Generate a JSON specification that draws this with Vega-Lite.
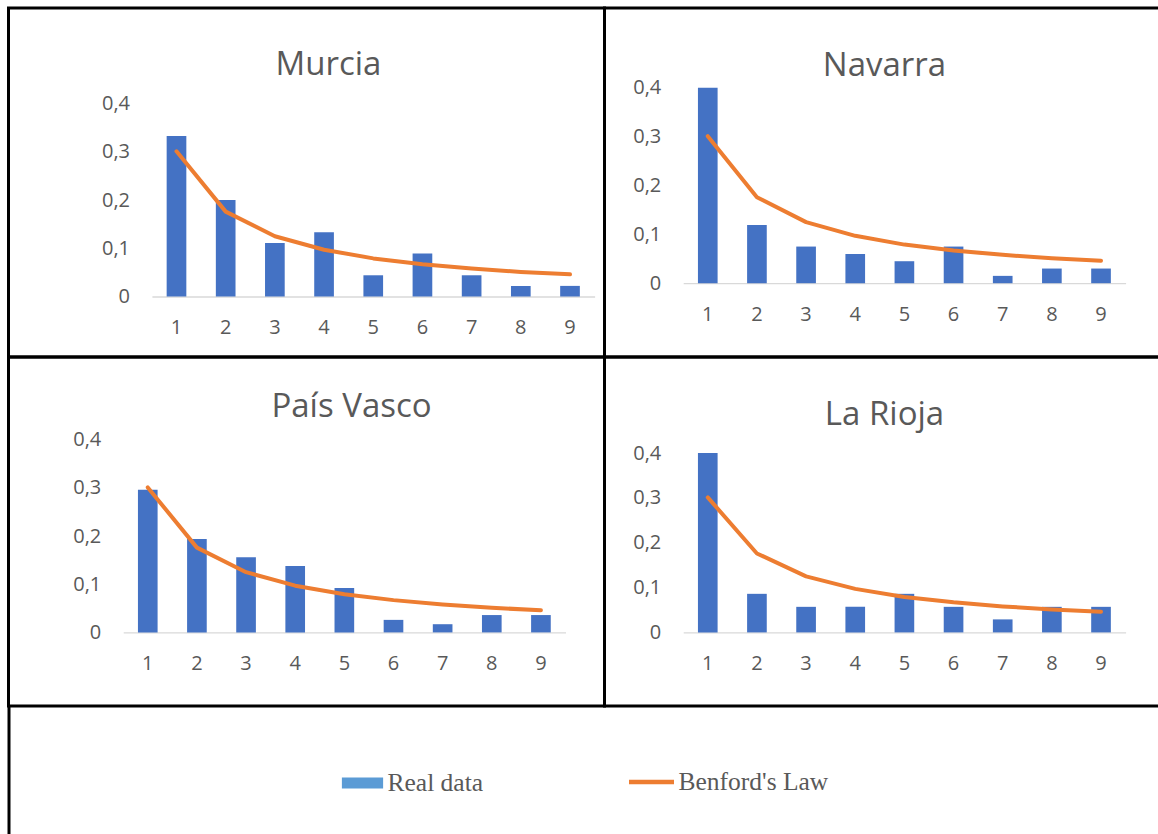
{
  "$schema": "https://vega.github.io/schema/vega-lite/v6.json",
  "padding": {"left": 6.5, "top": 6, "right": 0, "bottom": 0},
  "background": "white",
  "datasets": {
    "digits": [
      {"region": "Murcia", "digit": 1, "real": 0.333, "benford": 0.301},
      {"region": "Murcia", "digit": 2, "real": 0.2, "benford": 0.176},
      {"region": "Murcia", "digit": 3, "real": 0.111, "benford": 0.125},
      {"region": "Murcia", "digit": 4, "real": 0.133, "benford": 0.097},
      {"region": "Murcia", "digit": 5, "real": 0.044, "benford": 0.079},
      {"region": "Murcia", "digit": 6, "real": 0.089, "benford": 0.067},
      {"region": "Murcia", "digit": 7, "real": 0.044, "benford": 0.058},
      {"region": "Murcia", "digit": 8, "real": 0.022, "benford": 0.051},
      {"region": "Murcia", "digit": 9, "real": 0.022, "benford": 0.046},
      {"region": "Navarra", "digit": 1, "real": 0.4, "benford": 0.301},
      {"region": "Navarra", "digit": 2, "real": 0.119, "benford": 0.176},
      {"region": "Navarra", "digit": 3, "real": 0.075, "benford": 0.125},
      {"region": "Navarra", "digit": 4, "real": 0.06, "benford": 0.097},
      {"region": "Navarra", "digit": 5, "real": 0.045, "benford": 0.079},
      {"region": "Navarra", "digit": 6, "real": 0.075, "benford": 0.067},
      {"region": "Navarra", "digit": 7, "real": 0.015, "benford": 0.058},
      {"region": "Navarra", "digit": 8, "real": 0.03, "benford": 0.051},
      {"region": "Navarra", "digit": 9, "real": 0.03, "benford": 0.046},
      {"region": "País Vasco", "digit": 1, "real": 0.296, "benford": 0.301},
      {"region": "País Vasco", "digit": 2, "real": 0.194, "benford": 0.176},
      {"region": "País Vasco", "digit": 3, "real": 0.156, "benford": 0.125},
      {"region": "País Vasco", "digit": 4, "real": 0.138, "benford": 0.097},
      {"region": "País Vasco", "digit": 5, "real": 0.092, "benford": 0.079},
      {"region": "País Vasco", "digit": 6, "real": 0.026, "benford": 0.067},
      {"region": "País Vasco", "digit": 7, "real": 0.017, "benford": 0.058},
      {"region": "País Vasco", "digit": 8, "real": 0.036, "benford": 0.051},
      {"region": "País Vasco", "digit": 9, "real": 0.036, "benford": 0.046},
      {"region": "La Rioja", "digit": 1, "real": 0.4, "benford": 0.301},
      {"region": "La Rioja", "digit": 2, "real": 0.086, "benford": 0.176},
      {"region": "La Rioja", "digit": 3, "real": 0.057, "benford": 0.125},
      {"region": "La Rioja", "digit": 4, "real": 0.057, "benford": 0.097},
      {"region": "La Rioja", "digit": 5, "real": 0.086, "benford": 0.079},
      {"region": "La Rioja", "digit": 6, "real": 0.057, "benford": 0.067},
      {"region": "La Rioja", "digit": 7, "real": 0.029, "benford": 0.058},
      {"region": "La Rioja", "digit": 8, "real": 0.057, "benford": 0.051},
      {"region": "La Rioja", "digit": 9, "real": 0.057, "benford": 0.046}
    ],
    "series": [
      {"series": "Real data"},
      {"series": "Benford's Law"}
    ]
  },
  "columns": 2,
  "bounds": "flush",
  "spacing": 0,
  "concat": [
    {
      "width": 596, "height": 349,
      "title": {"text": "Murcia", "dx": 22, "offset": -74},
      "data": {"name": "digits"},
      "transform": [{"filter": "datum.region === 'Murcia'"}],
      "encoding": {
        "x": {"field": "digit", "type": "ordinal",
              "scale": {"range": [143.4, 586.1], "paddingInner": 0.6, "paddingOuter": 0.3},
              "axis": {"offset": -60.5}}
      },
      "layer": [
        {"mark": {"type": "bar", "color": "#4472c4"},
         "encoding": {"y": {"field": "real", "type": "quantitative",
                            "scale": {"domain": [0, 0.4], "range": [288.5, 95.6], "nice": false},
                            "axis": {"offset": -121, "values": [0, 0.1, 0.2, 0.3, 0.4]}}}},
        {"mark": {"type": "line", "color": "#ed7d31", "strokeWidth": 4, "strokeCap": "round", "strokeJoin": "round"},
         "encoding": {"y": {"field": "benford", "type": "quantitative"}}}
      ]
    },
    {
      "width": 560, "height": 349,
      "title": {"text": "Navarra", "dx": 0, "offset": -75},
      "data": {"name": "digits"},
      "transform": [{"filter": "datum.region === 'Navarra'"}],
      "encoding": {
        "x": {"field": "digit", "type": "ordinal",
              "scale": {"range": [78.7, 521.1], "paddingInner": 0.6, "paddingOuter": 0.3},
              "axis": {"offset": -73.8}}
      },
      "layer": [
        {"mark": {"type": "bar", "color": "#4472c4"},
         "encoding": {"y": {"field": "real", "type": "quantitative",
                            "scale": {"domain": [0, 0.4], "range": [275.2, 79.8], "nice": false},
                            "axis": {"offset": -56.3, "values": [0, 0.1, 0.2, 0.3, 0.4]}}}},
        {"mark": {"type": "line", "color": "#ed7d31", "strokeWidth": 4, "strokeCap": "round", "strokeJoin": "round"},
         "encoding": {"y": {"field": "benford", "type": "quantitative"}}}
      ]
    },
    {
      "width": 596, "height": 349,
      "title": {"text": "País Vasco", "dx": 45, "offset": -67},
      "data": {"name": "digits"},
      "transform": [{"filter": "datum.region === 'País Vasco'"}],
      "encoding": {
        "x": {"field": "digit", "type": "ordinal",
              "scale": {"range": [114.7, 557], "paddingInner": 0.6, "paddingOuter": 0.3},
              "axis": {"offset": -73.6}}
      },
      "layer": [
        {"mark": {"type": "bar", "color": "#4472c4"},
         "encoding": {"y": {"field": "real", "type": "quantitative",
                            "scale": {"domain": [0, 0.4], "range": [275.4, 82.7], "nice": false},
                            "axis": {"offset": -92.3, "values": [0, 0.1, 0.2, 0.3, 0.4]}}}},
        {"mark": {"type": "line", "color": "#ed7d31", "strokeWidth": 4, "strokeCap": "round", "strokeJoin": "round"},
         "encoding": {"y": {"field": "benford", "type": "quantitative"}}}
      ]
    },
    {
      "width": 560, "height": 349,
      "title": {"text": "La Rioja", "dx": 0, "offset": -75},
      "data": {"name": "digits"},
      "transform": [{"filter": "datum.region === 'La Rioja'"}],
      "encoding": {
        "x": {"field": "digit", "type": "ordinal",
              "scale": {"range": [78.7, 521.1], "paddingInner": 0.6, "paddingOuter": 0.3},
              "axis": {"offset": -73.6}}
      },
      "layer": [
        {"mark": {"type": "bar", "color": "#4472c4"},
         "encoding": {"y": {"field": "real", "type": "quantitative",
                            "scale": {"domain": [0, 0.4], "range": [275.4, 96], "nice": false},
                            "axis": {"offset": -56.3, "values": [0, 0.1, 0.2, 0.3, 0.4]}}}},
        {"mark": {"type": "line", "color": "#ed7d31", "strokeWidth": 4, "strokeCap": "round", "strokeJoin": "round"},
         "encoding": {"y": {"field": "benford", "type": "quantitative"}}}
      ]
    },
    {
      "width": 596, "height": 135,
      "view": {"stroke": null},
      "data": {"name": "series"},
      "layer": [
        {
          "transform": [{"filter": "datum.series === 'Real data'"}],
          "mark": {"type": "point", "filled": true, "opacity": 0},
          "encoding": {
            "y": {"field": "series", "type": "nominal",
                  "axis": {"domain": true, "domainColor": "#000000", "domainWidth": 3,
                           "labels": false, "ticks": false, "title": null}},
            "fill": {"field": "series", "type": "nominal",
                     "scale": {"domain": ["Real data"], "range": ["#5b9bd5"]},
                     "legend": {"title": null, "orient": "none", "legendX": 333, "legendY": 754,
                                "symbolType": "M-1,-0.27H1V0.27H-1Z", "symbolSize": 1700,
                                "symbolOpacity": 1, "symbolStrokeWidth": 0}}
          }
        },
        {
          "transform": [{"filter": "datum.series === \"Benford's Law\""}],
          "mark": {"type": "line", "opacity": 0},
          "encoding": {
            "stroke": {"field": "series", "type": "nominal",
                       "scale": {"domain": ["Benford's Law"], "range": ["#ed7d31"]},
                       "legend": {"title": null, "orient": "none", "legendX": 618, "legendY": 749,
                                  "labelOffset": 2,
                                  "symbolType": "stroke", "symbolSize": 2025,
                                  "symbolOpacity": 1, "symbolStrokeWidth": 4.3}}
          }
        }
      ]
    }
  ],
  "config": {
    "view": {"stroke": "#000000", "strokeWidth": 3},
    "title": {"font": "Open Sans", "fontSize": 33, "fontWeight": "normal", "color": "#595959",
              "anchor": "middle", "frame": "group", "baseline": "alphabetic"},
    "axisX": {"title": null, "domain": true, "domainColor": "#d9d9d9", "domainWidth": 1.3,
              "ticks": false, "tickSize": 0, "grid": false, "labelAngle": 0,
              "labelFont": "Open Sans", "labelFontSize": 20, "labelColor": "#595959",
              "labelBaseline": "middle", "labelPadding": 31},
    "axisY": {"title": null, "domain": false, "ticks": false, "tickSize": 0, "grid": false,
              "labelExpr": "replace(format(datum.value, '~g'), '.', ',')",
              "labelFont": "Open Sans", "labelFontSize": 20, "labelColor": "#595959",
              "labelPadding": 0, "labelAlign": "right", "labelBaseline": "middle"},
    "legend": {"labelFont": "Liberation Serif", "labelFontSize": 25.5, "labelColor": "#595959",
               "labelOffset": 4, "rowPadding": 0}
  }
}
